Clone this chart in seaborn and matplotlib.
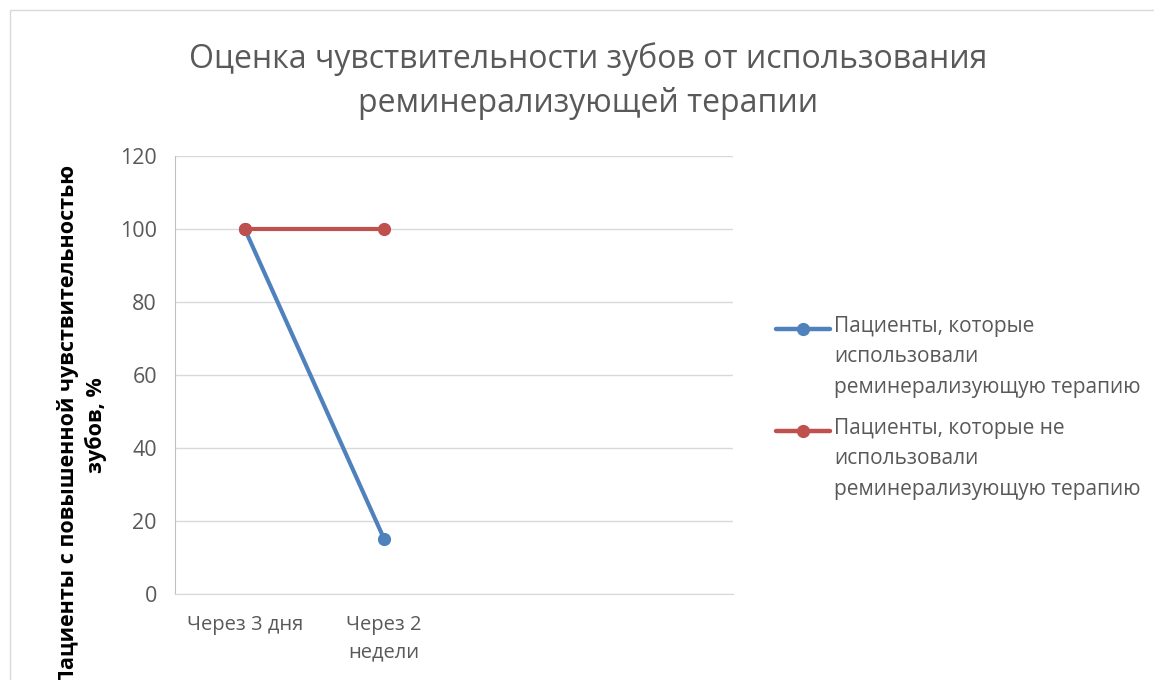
"""
plot.py
=======
Line chart: tooth sensitivity after remineralising therapy.
"""

import numpy as np
import pandas as pd
import matplotlib
matplotlib.use("Agg")
import matplotlib.pyplot as plt
import seaborn as sns
from matplotlib.patches import Rectangle

# ─────────────────────────────────────────────
# DATA
# ─────────────────────────────────────────────
CATEGORIES   = ["Через 3 дня", "Через 2\nнедели", "", ""]
SERIES_NAMES = [
    "Пациенты, которые\nиспользовали\nреминерализующую терапию",
    "Пациенты, которые не\nиспользовали\nреминерализующую терапию",
]
TREATED      = [100, 15]
UNTREATED    = [100, 100]
Y_TICKS      = [0, 20, 40, 60, 80, 100, 120]

TITLE  = "Оценка чувствительности зубов от использования\nреминерализующей терапии"
YLABEL = "Пациенты с повышенной чувствительностью\nзубов, %"

COLORS = ["#4F81BD", "#C0504D"]
TEXT_C = "#595959"

# ─────────────────────────────────────────────
# STYLE
# ─────────────────────────────────────────────
sns.set_style("white")
plt.rcParams["font.family"] = ["Open Sans", "DejaVu Sans"]

rows = []
for name, vals in zip(SERIES_NAMES, [TREATED, UNTREATED]):
    for i, v in enumerate(vals):
        rows.append({"pos": i, "value": v, "series": name})
df = pd.DataFrame(rows)

fig = plt.figure(figsize=(11.54, 6.8), dpi=100)
W, H = 1154, 680
ax = fig.add_axes([175 / W, 1 - 594 / H, (733 - 175) / W, (594 - 156) / H])

sns.lineplot(data=df, x="pos", y="value", hue="series", palette=COLORS,
             marker="o", markersize=9.5, markeredgewidth=0, linewidth=3,
             ax=ax, legend=True)

# ── axes ────────────────────────────────
ax.set_xlim(-0.5, len(CATEGORIES) - 0.5)
ax.set_ylim(0, 120)
ax.set_yticks(Y_TICKS)
ax.set_xticks(range(len(CATEGORIES)))
ax.set_xticklabels(CATEGORIES, fontsize=14.5, color=TEXT_C, linespacing=1.5)
ax.tick_params(axis="y", labelsize=15.5, colors=TEXT_C, length=0, pad=13)
ax.tick_params(axis="x", length=0, pad=15)
ax.grid(axis="y", color="#D9D9D9", linewidth=1)
ax.set_axisbelow(True)
for s in ["top", "right"]:
    ax.spines[s].set_visible(False)
ax.spines["left"].set_color("#BFBFBF")
ax.spines["bottom"].set_color("#D9D9D9")
ax.set_xlabel("")
ax.set_ylabel("")

# ── title / labels ──────────────────────
fig.text(588 / W, 1 - 81 / H, TITLE, ha="center", va="center",
         fontsize=23, color=TEXT_C, linespacing=1.45)
# like the reference, the long first line runs off the bottom edge
fig.text(82 / W, 1 - 425 / H, YLABEL, rotation=90, ha="center", va="center",
         fontsize=15.5, fontweight="bold", color="black", linespacing=1.3,
         multialignment="center")

# ── legend ──────────────────────────────
LEG_FS = 15
handles, labels = ax.get_legend_handles_labels()
leg = ax.legend(handles, labels, loc="upper left",
                bbox_to_anchor=(757 / W, 1 - 297 / H),
                bbox_transform=fig.transFigure, frameon=False,
                fontsize=LEG_FS, handlelength=2.6, handletextpad=0.2,
                labelspacing=0.95, labelcolor=TEXT_C)
for t in leg.get_texts():
    t.set_linespacing(1.6)
# put the legend marker next to the first text line (Excel style)
fig.canvas.draw()
line_gap = 29 * 72 / 100
for ln in leg.get_lines():
    ln.set_ydata(np.asarray(ln.get_ydata()) + line_gap)
    ln.set_linewidth(3.2)

# ── chart border ────────────────────────
fig.patches.append(Rectangle((10 / W, -0.1), 1.2, 1 - 10 / H + 0.1,
                             transform=fig.transFigure, fill=False,
                             edgecolor="#D9D9D9", linewidth=1))

fig.savefig("out.png", dpi=100)
